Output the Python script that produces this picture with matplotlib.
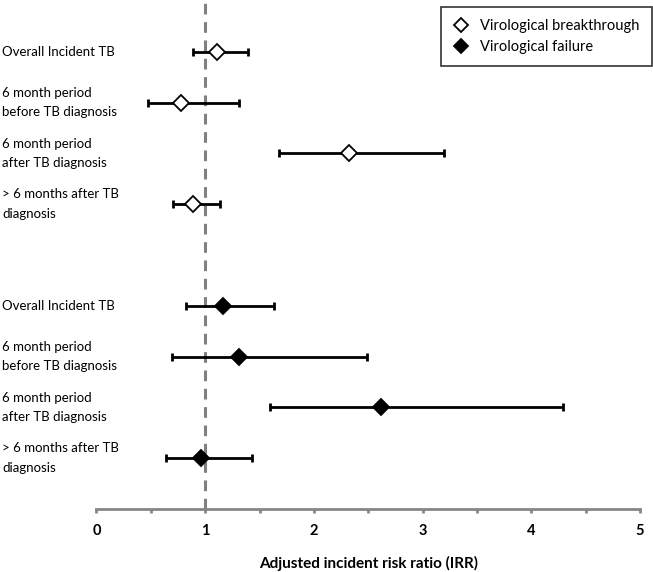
import matplotlib
matplotlib.use("Agg")
import matplotlib.pyplot as plt
from matplotlib.transforms import blended_transform_factory
from matplotlib.lines import Line2D

plt.rcParams['font.family'] = ['Lato', 'DejaVu Sans']

labels = ["Overall Incident TB",
          "6 month period\nbefore TB diagnosis",
          "6 month period\nafter TB diagnosis",
          "> 6 months after TB\ndiagnosis"]

# Virological breakthrough
vb_irr = [1.11, 0.78, 2.32, 0.89]
vb_lo = [0.89, 0.47, 1.68, 0.70]
vb_hi = [1.39, 1.31, 3.20, 1.14]

# Virological failure
vf_irr = [1.16, 1.31, 2.62, 0.96]
vf_lo = [0.82, 0.69, 1.60, 0.64]
vf_hi = [1.63, 2.49, 4.29, 1.43]

vb_pos = [9, 8, 7, 6]
vf_pos = [4, 3, 2, 1]

series = [
    ("Virological breakthrough", vb_irr, vb_lo, vb_hi, vb_pos, "white"),
    ("Virological failure", vf_irr, vf_lo, vf_hi, vf_pos, "black"),
]

fig = plt.figure(figsize=(6.53, 5.72), dpi=100)
ax = fig.add_axes([96.5/653, (572-509)/572, (640-96.5)/653, 508/572])

ax.axvline(1, color="#808080", lw=2.2, ls=(0, (3.5, 2.5)), zorder=1)

handles = []
tr = blended_transform_factory(fig.transFigure, ax.transData)
for name, irr, lo, hi, pos, fc in series:
    xerr = [[m - l for m, l in zip(irr, lo)], [h - m for m, h in zip(irr, hi)]]
    ax.errorbar(irr, pos, xerr=xerr, fmt="none", ecolor="black", elinewidth=2,
                capsize=3, capthick=2, zorder=2)
    ax.plot(irr, pos, ls="none", marker="D", ms=8.3, mfc=fc, mec="black", mew=1.3, zorder=3)
    handles.append(Line2D([], [], ls="none", marker="D", ms=7.5, mfc=fc, mec="black", mew=1.3))
    for lab, p in zip(labels, pos):
        fig.text(2/653, p, lab, transform=tr, ha="left", va="center", fontsize=9.5,
                 linespacing=1.75)

ax.set_xlim(0, 5)
ax.set_ylim(0, 10)
ax.set_xticks([0, 0.5, 1, 1.5, 2, 2.5, 3, 3.5, 4, 4.5, 5])
ax.set_xticklabels(["0", "", "1", "", "2", "", "3", "", "4", "", "5"],
                   fontweight="bold", fontsize=10.5)
ax.set_yticks([])
for s in ["top", "right", "left"]:
    ax.spines[s].set_visible(False)
ax.spines["bottom"].set_color("#868686")
ax.spines["bottom"].set_linewidth(2)
ax.tick_params(axis="x", direction="out", length=3, width=2, color="#868686", pad=8)
ax.set_xlabel("Adjusted incident risk ratio (IRR)", fontweight="bold", fontsize=11, labelpad=13)

leg = fig.legend(handles, [s[0] for s in series], loc="upper right",
                 bbox_to_anchor=(651.5/653, 1 - 7/572), fancybox=False, frameon=True,
                 fontsize=10.5, handletextpad=0.8, borderpad=0.85, labelspacing=0.45,
                 handlelength=1.0, borderaxespad=0)
leg.get_frame().set_edgecolor("black")
leg.get_frame().set_linewidth(1.2)

fig.savefig("out.png", dpi=100, facecolor="white")
